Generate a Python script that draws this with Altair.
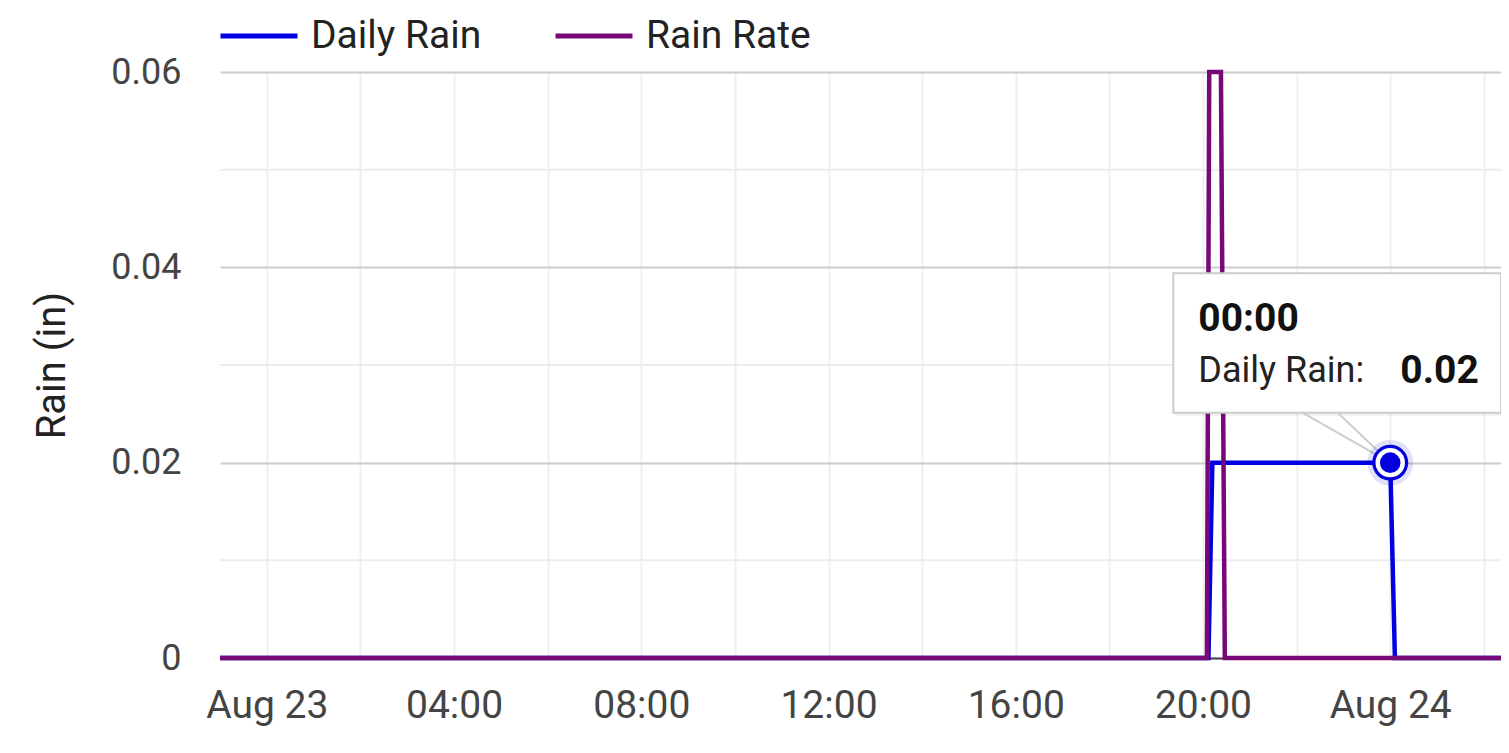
import altair as alt
import pandas as pd

# ---- data -------------------------------------------------------------
series_names = ["Daily Rain", "Rain Rate"]
series_colors = ["#0000e0", "#780878"]

daily_times = ["2023-08-22T23:00:00Z", "2023-08-23T20:07:00Z", "2023-08-23T20:12:00Z",
               "2023-08-24T00:00:00Z", "2023-08-24T00:06:00Z", "2023-08-24T02:22:00Z"]
daily_vals = [0, 0, 0.02, 0.02, 0, 0]

rate_times = ["2023-08-22T23:00:00Z", "2023-08-23T20:05:00Z", "2023-08-23T20:08:00Z",
              "2023-08-23T20:23:00Z", "2023-08-23T20:28:00Z", "2023-08-24T02:22:00Z"]
rate_vals = [0, 0, 0.06, 0.06, 0, 0]

y_major = [0, 0.02, 0.04, 0.06]
y_minor = [0.01, 0.03, 0.05]

grid_ticks = ["2023-08-23T00:00:00Z", "2023-08-23T02:00:00Z", "2023-08-23T04:00:00Z",
              "2023-08-23T06:00:00Z", "2023-08-23T08:00:00Z", "2023-08-23T10:00:00Z",
              "2023-08-23T12:00:00Z", "2023-08-23T14:00:00Z", "2023-08-23T16:00:00Z",
              "2023-08-23T18:00:00Z", "2023-08-23T20:00:00Z", "2023-08-23T22:00:00Z",
              "2023-08-24T00:00:00Z", "2023-08-24T02:00:00Z"]
hour_ticks = ["2023-08-23T04:00:00Z", "2023-08-23T08:00:00Z", "2023-08-23T12:00:00Z",
              "2023-08-23T16:00:00Z", "2023-08-23T20:00:00Z"]
day_ticks = ["2023-08-23T00:00:00Z", "2023-08-24T00:00:00Z"]

# hovered point (tooltip)
hover_time = "2023-08-24T00:00:00Z"
hover_label = "00:00"
hover_series = "Daily Rain"
hover_value = 0.02

# tooltip box placement (data space)
box_left = "2023-08-23T19:22:00Z"
box_right = "2023-08-24T02:22:00Z"
box_top = 0.0394
box_bottom = 0.0251
pointer_base = ["2023-08-23T22:08:00Z", "2023-08-23T22:53:00Z"]


def ms(s):
    return int(pd.Timestamp(s).value // 10**6)


# ---- frames -----------------------------------------------------------
lines_df = pd.DataFrame(
    {"time": daily_times + rate_times,
     "value": daily_vals + rate_vals,
     "series": [series_names[0]] * len(daily_times) + [series_names[1]] * len(rate_times)}
)
minor_df = pd.DataFrame({"value": y_minor})
hover_df = pd.DataFrame({"time": [hover_time], "value": [hover_value]})
box_df = pd.DataFrame({"t1": [box_left], "t2": [box_right], "v1": [box_top], "v2": [box_bottom]})
pointer_df = pd.DataFrame({
    "time": [pointer_base[0], hover_time, pointer_base[1], hover_time],
    "value": [box_bottom, hover_value, box_bottom, hover_value],
    "side": ["a", "a", "b", "b"],
})
text_df = pd.DataFrame({"time": [box_left], "value": [box_top],
                        "head": [hover_label], "name": [hover_series + ":"],
                        "val": [f"{hover_value:.2f}"]})

FONT = "Roboto"
BLUE = series_colors[0]

x_scale = alt.Scale(type="utc", nice=False)
y_scale = alt.Scale(domain=[0, 0.06], nice=False)

grid_axis = alt.Axis(
    title=None, orient="bottom", values=[ms(t) for t in grid_ticks], labels=False,
    ticks=False, domain=True, domainColor="#444444", domainWidth=2,
    grid=True, gridColor="#f0f0f0", gridWidth=2,
)
label_common = dict(title=None, orient="bottom", ticks=False, domain=False, grid=False,
                    labelFontSize=39, labelColor="#444444", labelPadding=28,
                    labelOverlap=False, labelFlush=False)
hour_axis = alt.Axis(values=[ms(t) for t in hour_ticks], format="%H:%M", **label_common)
day_axis = alt.Axis(values=[ms(t) for t in day_ticks], format="%b %d", **label_common)

y_axis = alt.Axis(
    title="Rain (in)", titleFontSize=40, titleFontWeight="normal", titleColor="#222222",
    titlePadding=38,
    values=y_major,
    labelExpr="datum.value == 0 ? '0' : format(datum.value, '.2f')",
    labelFontSize=36, labelColor="#444444", labelPadding=39,
    ticks=False, domain=False,
    grid=True, gridWidth=2, gridColor="#cccccc",
)

X = lambda f: alt.X(f, scale=x_scale, axis=None)
Y = lambda f: alt.Y(f, scale=y_scale, axis=y_axis)

minor = alt.Chart(minor_df).mark_rule(color="#ececec", strokeWidth=2).encode(y=Y("value:Q"))

lines = alt.Chart(lines_df).mark_line(strokeWidth=4.5).encode(
    x=alt.X("time:T", scale=x_scale, axis=grid_axis),
    y=Y("value:Q"),
    color=alt.Color("series:N",
                    scale=alt.Scale(domain=series_names, range=series_colors),
                    legend=alt.Legend(
                        title=None, orient="none", direction="horizontal",
                        legendX=-2, legendY=-77,
                        symbolType="stroke", symbolSize=5929, symbolStrokeWidth=5,
                        labelFontSize=39, labelColor="#222222", labelLimit=0,
                        labelOffset=11, columnPadding=63,
                    )),
)

hour_labels = alt.Chart(lines_df).mark_line(strokeOpacity=0).encode(
    x=alt.X("time:T", scale=x_scale, axis=hour_axis),
    y=Y("value:Q"),
    detail="series:N",
)
day_labels = alt.Chart(lines_df).mark_line(strokeOpacity=0).encode(
    x=alt.X("time:T", scale=x_scale, axis=day_axis),
    y=Y("value:Q"),
    detail="series:N",
)

shadow = alt.Chart(box_df).mark_rect(fill="#000000", opacity=0.06, xOffset=2, x2Offset=2, yOffset=3, y2Offset=3).encode(
    x=X("t1:T"), x2="t2:T", y=Y("v1:Q"), y2="v2:Q")
box = alt.Chart(box_df).mark_rect(fill="white", stroke="#cccccc", strokeWidth=2).encode(
    x=X("t1:T"), x2="t2:T", y=Y("v1:Q"), y2="v2:Q")
pointer = alt.Chart(pointer_df).mark_line(color="#cccccc", strokeWidth=2).encode(
    x=X("time:T"), y=Y("value:Q"), detail="side:N")

def dot_layer(size, color, opacity):
    return alt.Chart(hover_df).mark_point(shape="circle", filled=True, size=size,
                                          color=color, opacity=opacity).encode(
        x=X("time:T"), y=Y("value:Q"))

halo = dot_layer(2116, BLUE, 0.12)
ring = dot_layer(1296, BLUE, 1)
white = dot_layer(864, "white", 1)
dot = dot_layer(424, BLUE, 1)

head = alt.Chart(text_df).mark_text(align="left", baseline="alphabetic", dx=25, dy=58,
                                    fontSize=39, fontWeight="bold", color="#111111").encode(
    x=X("time:T"), y=Y("value:Q"), text="head:N")
name = alt.Chart(text_df).mark_text(align="left", baseline="alphabetic", dx=25, dy=109,
                                    fontSize=36, color="#222222").encode(
    x=X("time:T"), y=Y("value:Q"), text="name:N")
val = alt.Chart(text_df).mark_text(align="left", baseline="alphabetic", dx=227, dy=110,
                                   fontSize=39, fontWeight="bold", color="#111111").encode(
    x=X("time:T"), y=Y("value:Q"), text="val:N")

chart = alt.layer(minor, lines, hour_labels, day_labels, shadow, box, pointer,
                  halo, ring, white, dot, head, name, val).resolve_axis(
    x="independent"
).properties(
    width=1281, height=586,
    padding={"left": 212, "top": 64, "right": 0, "bottom": 80},
    autosize=alt.AutoSizeParams(type="none"),
).configure(font=FONT).configure_view(strokeWidth=0)

chart.save("out.html", embed_options={"renderer": "svg", "actions": False})
